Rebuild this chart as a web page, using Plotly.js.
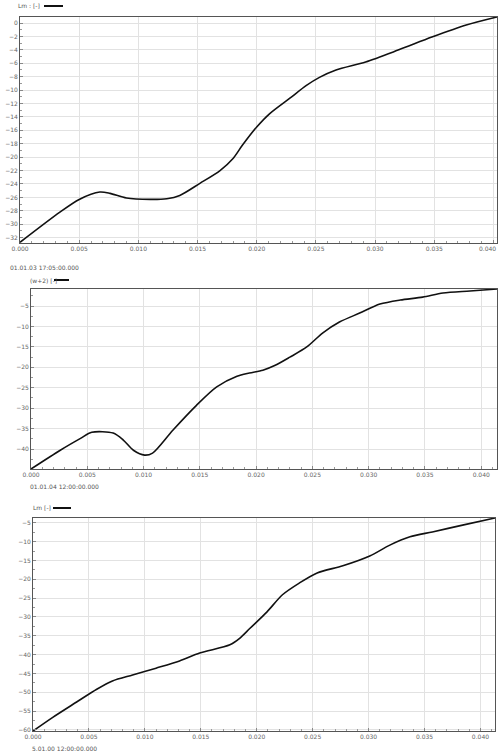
<!DOCTYPE html>
<html>
<head>
<meta charset="utf-8">
<script src="https://cdn.plot.ly/plotly-3.0.1.min.js"></script>
<style>html,body{margin:0;padding:0;background:#fff;}#chart{width:499px;height:753px;}</style>
</head>
<body>
<div id="chart"></div>
<script>
// Panel 1
const x1 = [0, 0.00337, 0.0050, 0.00675, 0.0076, 0.0090, 0.0110, 0.0124, 0.0135, 0.0152, 0.0169, 0.0180, 0.0188, 0.0200, 0.0211, 0.0228, 0.0242, 0.0253, 0.0267, 0.0292, 0.0320, 0.0348, 0.0377, 0.0403];
const y1 = [-32.7, -28.2, -26.3, -25.2, -25.4, -26.1, -26.3, -26.2, -25.7, -23.9, -22.0, -20.2, -18.2, -15.5, -13.5, -11.2, -9.3, -8.1, -7.0, -5.8, -4.0, -2.1, -0.3, 0.9];
// Panel 2
const x2 = [0, 0.0026, 0.0044, 0.0054, 0.0073, 0.0082, 0.0091, 0.0101, 0.0108, 0.0126, 0.0147, 0.0165, 0.0183, 0.0194, 0.0206, 0.0217, 0.0230, 0.0245, 0.0259, 0.0274, 0.0292, 0.0310, 0.0328, 0.0348, 0.0366, 0.0390, 0.0414];
const y2 = [-44.9, -40.3, -37.4, -35.9, -36.1, -37.8, -40.3, -41.5, -41.0, -35.4, -29.3, -24.8, -22.2, -21.4, -20.7, -19.5, -17.5, -15.0, -11.6, -8.9, -6.7, -4.5, -3.5, -2.8, -1.8, -1.3, -0.8];
// Panel 3
const x3 = [0, 0.0018, 0.0039, 0.0057, 0.0071, 0.0089, 0.0110, 0.0131, 0.0149, 0.0176, 0.0185, 0.0194, 0.0209, 0.0223, 0.0238, 0.0254, 0.0277, 0.0301, 0.0319, 0.0337, 0.0357, 0.0384, 0.0413];
const y3 = [-60.3, -56.6, -52.6, -49.2, -47.0, -45.4, -43.6, -41.7, -39.6, -37.4, -35.6, -33.0, -28.7, -24.1, -21.0, -18.3, -16.4, -13.8, -10.9, -8.7, -7.4, -5.6, -3.7];

const legendNames = ["Lm : [-]", "(w+2) [-]", "Lm [-]"];
const dateLabels = ["01.01.03 17:05:00.000", "01.01.04 12:00:00.000", "5.01.00 12:00:00.000"];
const xTickVals = [0, 0.005, 0.010, 0.015, 0.020, 0.025, 0.030, 0.035, 0.040];
const xTickText = ["0.000", "0.005", "0.010", "0.015", "0.020", "0.025", "0.030", "0.035", "0.040"];

const W = 499, H = 753;
const fx = p => p / W;
const fy = p => 1 - p / H;

const lineStyle = {color: '#111', width: 1.6, shape: 'spline', smoothing: 0.8};
const traces = [
  {x: x1, y: y1, type: 'scatter', mode: 'lines', line: lineStyle, xaxis: 'x', yaxis: 'y', name: legendNames[0], showlegend: false},
  {x: x2, y: y2, type: 'scatter', mode: 'lines', line: lineStyle, xaxis: 'x2', yaxis: 'y2', name: legendNames[1], showlegend: false},
  {x: x3, y: y3, type: 'scatter', mode: 'lines', line: lineStyle, xaxis: 'x3', yaxis: 'y3', name: legendNames[2], showlegend: false}
];

const tickFont = {family: 'DejaVu Sans', size: 6, color: '#666'};
function xax(domain, range, anchor, ttext) {
  return {domain: domain, range: range, anchor: anchor, tickvals: xTickVals, ticktext: ttext,
    showgrid: true, gridcolor: '#e2e2e2', gridwidth: 1, zeroline: false,
    showline: true, mirror: true, linecolor: '#555', linewidth: 1,
    ticks: 'inside', ticklen: 3, tickcolor: '#888', tickfont: tickFont,
    minor: {dtick: 0.001, ticks: 'inside', ticklen: 2, tickcolor: '#999', showgrid: false}};
}
function yax(domain, range, anchor, dtick, t0) {
  return {domain: domain, range: range, anchor: anchor, dtick: dtick, tick0: t0,
    showgrid: true, gridcolor: '#e2e2e2', gridwidth: 1, zeroline: false,
    showline: true, mirror: true, linecolor: '#555', linewidth: 1,
    ticks: 'inside', ticklen: 3, tickcolor: '#888', tickfont: tickFont,
    minor: {dtick: dtick / 2, ticks: 'inside', ticklen: 2, tickcolor: '#999', showgrid: false}};
}

const annFont = {family: 'DejaVu Sans', size: 6, color: '#555'};
function ann(text, px, py, anchor) {
  return {xref: 'paper', yref: 'paper', x: fx(px), y: fy(py), text: text, showarrow: false,
    xanchor: anchor || 'left', yanchor: 'middle', font: anchor ? tickFont : annFont};
}
function legLine(x0, x1p, py) {
  return {type: 'line', xref: 'paper', yref: 'paper', x0: fx(x0), x1: fx(x1p), y0: fy(py), y1: fy(py),
    line: {color: '#111', width: 2}};
}

// panel 1: last tick label sits at the page edge, drawn right-aligned so it stays whole
const xTickText1 = xTickText.slice(0, -1).concat([""]);

const layout = {
  width: W, height: H,
  margin: {l: 0, r: 0, t: 0, b: 0},
  paper_bgcolor: '#fff', plot_bgcolor: '#fff',
  showlegend: false,
  xaxis: xax([fx(20), fx(497)], [0, 0.0403], 'y', xTickText1),
  yaxis: yax([fy(243), fy(17)], [-32.8, 0.9], 'x', 2, 0),
  xaxis2: xax([fx(31), fx(497)], [0, 0.0414], 'y2', xTickText),
  yaxis2: yax([fy(469), fy(289)], [-44.9, -0.8], 'x2', 5, 0),
  xaxis3: xax([fx(33), fx(495)], [0, 0.0413], 'y3', xTickText),
  yaxis3: yax([fy(731), fy(518)], [-60.3, -3.7], 'x3', 5, 0),
  annotations: [
    ann(legendNames[0], 16, 6),
    ann(legendNames[1], 28, 280),
    ann(legendNames[2], 31, 508),
    ann(dateLabels[0], 8, 267),
    ann(dateLabels[1], 28, 486),
    ann(dateLabels[2], 30, 748),
    ann(xTickText[8], 498, 249, 'right')
  ],
  shapes: [
    legLine(44, 63, 6),
    legLine(54, 69, 280),
    legLine(53, 71, 508)
  ]
};

Plotly.newPlot('chart', traces, layout, {staticPlot: true, displayModeBar: false});
</script>
</body>
</html>
